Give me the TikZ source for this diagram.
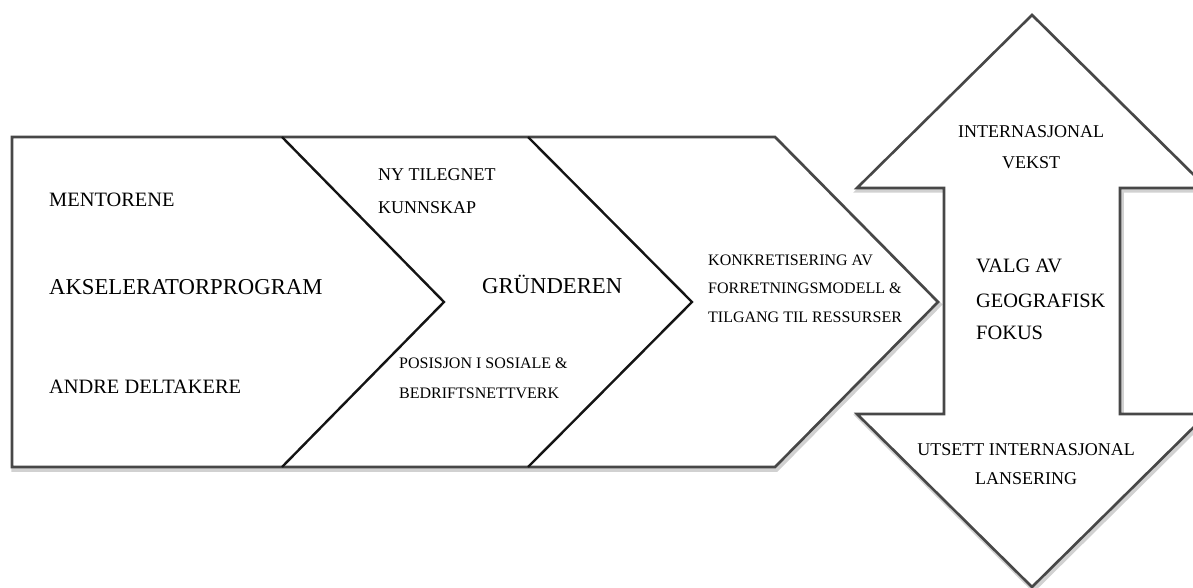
\documentclass[tikz,border=0pt]{standalone}
\usepackage{fontspec}
\setmainfont{Liberation Serif}
\begin{document}
\begin{tikzpicture}[x=1pt,y=-1pt,
  outline/.style={draw=black!72, line width=2.6pt, line join=miter, fill=white},
  shadowline/.style={draw=black!18, line width=4.5pt, line join=miter},
  divider/.style={draw=black!92, line width=2.4pt, line join=miter},
  shadowdiv/.style={draw=black!18, line width=4.5pt, line join=miter},
  txt/.style={inner sep=0pt, anchor=base west},
  ctxt/.style={inner sep=0pt, anchor=base},
  fsmall/.style={font=\fontsize{16}{16}\selectfont},
  fmid/.style={font=\fontsize{18}{18}\selectfont},
  fnorm/.style={font=\fontsize{20.4}{20.4}\selectfont},
  fbig/.style={font=\fontsize{22.7}{22.7}\selectfont}]
\useasboundingbox (0,0) rectangle (1193,588);
\clip (0,0) rectangle (1193,588);
% shadows
\begin{scope}[shift={(1.5,2.5)}]
\draw[shadowline] (12,137) -- (775,137) -- (938,302) -- (775,467) -- (12,467) -- cycle;
\draw[shadowdiv] (282,137) -- (444,302) -- (282,467);
\draw[shadowdiv] (528,137) -- (692,302) -- (528,467);
\draw[shadowline] (1032,15) -- (1207,188) -- (1120,188) -- (1120,414) -- (1207,414) -- (1032,587) -- (857,414) -- (944,414) -- (944,188) -- (857,188) -- cycle;
\end{scope}
% chevron band
\draw[outline] (12,137) -- (775,137) -- (938,302) -- (775,467) -- (12,467) -- cycle;
\draw[divider] (282,137) -- (444,302) -- (282,467);
\draw[divider] (528,137) -- (692,302) -- (528,467);
% double arrow
\draw[outline] (1032,15) -- (1207,188) -- (1120,188) -- (1120,414) -- (1207,414) -- (1032,587) -- (857,414) -- (944,414) -- (944,188) -- (857,188) -- cycle;
% texts segment 1
\node[txt,fnorm] (mentor) at (49,206) {MENTORENE};
\node[txt,fbig] (aksel) at (49,294) {AKSELERATORPROGRAM};
\node[txt,fnorm] (andre) at (49,393) {ANDRE DELTAKERE};
% segment 2
\node[txt,fmid] (ny1) at (378,181) {NY TILEGNET};
\node[txt,fmid] (ny2) at (378,213) {KUNNSKAP};
\node[txt,fbig] (grund) at (482,293) {GRÜNDEREN};
\node[txt,fsmall] (pos1) at (399,368) {POSISJON I SOSIALE \&};
\node[txt,fsmall] (pos2) at (399,398) {BEDRIFTSNETTVERK};
% segment 3
\node[txt,fsmall] (kon1) at (708,265) {KONKRETISERING AV};
\node[txt,fsmall] (kon2) at (708,293) {FORRETNINGSMODELL \&};
\node[txt,fsmall] (kon3) at (708,322) {TILGANG TIL RESSURSER};
% double arrow texts
\node[ctxt,fmid] (int1) at (1031,138) {INTERNASJONAL};
\node[ctxt,fmid] (int2) at (1031,168) {VEKST};
\node[txt,fnorm] (valg1) at (976,272) {VALG AV};
\node[txt,fnorm] (valg2) at (976,307) {GEOGRAFISK};
\node[txt,fnorm] (valg3) at (976,339) {FOKUS};
\node[ctxt,fmid] (uts1) at (1026,455) {UTSETT INTERNASJONAL};
\node[ctxt,fmid] (uts2) at (1026,484) {LANSERING};
\end{tikzpicture}
\end{document}
